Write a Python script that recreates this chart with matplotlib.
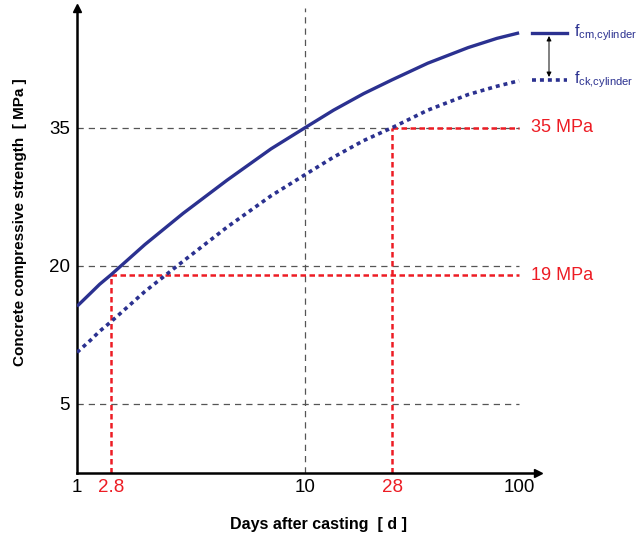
import numpy as np
import matplotlib.pyplot as plt
from matplotlib.lines import Line2D

plt.rcParams['font.family'] = ['Liberation Sans', 'DejaVu Sans']
plt.rcParams['mathtext.fontset'] = 'custom'
plt.rcParams['mathtext.rm'] = 'Liberation Sans'

# curves (days after casting -> MPa)
days = [1, 1.5, 2, 2.8, 3.5, 4.5, 6, 8, 10, 14, 20, 28, 40, 60, 80, 100]
fcm = [15.6, 17.0, 18.0, 19.0, 22.3, 25.7, 29.3, 32.7, 35.0, 36.9, 38.7, 40.2, 42.0, 43.7, 44.7, 45.3]
fck = [10.6, 11.9, 12.9, 13.9, 17.2, 20.5, 24.2, 27.6, 29.9, 31.8, 33.6, 35.0, 36.9, 38.6, 39.5, 40.1]

x_ticks = [1, 2.8, 10, 28, 100]
x_tick_labels = ['1', '2.8', '10', '28', '100']
y_ticks = [5, 20, 35]
marked_days = [2.8, 28]
marked_strength = [19, 35]
marked_labels = ['19 MPa', '35 MPa']

NAVY = '#2b3190'
RED = '#ed1c24'
GREY = '#555555'

# the day axis of the original is a hand-drawn (non uniform) log axis
knot_days = np.log10([1, 2.8, 10, 28, 100, 130])
knot_pos = [0, 33.7, 228, 315, 442, 468]

def fwd(t):
    return np.interp(np.log10(np.clip(t, 1e-3, None)), knot_days, knot_pos)

def inv(p):
    return 10 ** np.interp(p, knot_pos, knot_days)

fig = plt.figure(figsize=(6.39, 5.4), dpi=100)
ax = fig.add_axes([77 / 639, 1 - 473 / 540, (538 - 77) / 639, (473 - 8) / 540])
ax.set_xscale('function', functions=(fwd, inv))
ax.set_xlim(1, 121)
ax.set_ylim(-2.5, 48)

# grid
ax.hlines(y_ticks, 1, 100, colors=GREY, linestyles=(0, (5, 4)), lw=0.9, zorder=1)
ax.axvline(10, color=GREY, linestyle=(0, (5, 4)), lw=0.9, zorder=1)

# red markers
for d, s in zip(marked_days, marked_strength):
    ax.vlines(d, -2.5, s, colors=RED, linestyles=(0, (2.2, 1.4)), lw=1.8, zorder=2)
    ax.hlines(s, d, 100, colors=RED, linestyles=(0, (2.2, 1.4)), lw=1.8, zorder=2)
for s, lab in zip(marked_strength, marked_labels):
    ax.text(113, s, lab, color=RED, fontsize=13, va='center', ha='left')

# curves
ax.plot(days, fcm, color=NAVY, lw=2.4, solid_capstyle='butt', zorder=3)
ax.plot(days, fck, color=NAVY, lw=2.6, linestyle=(0, (1.1, 1.1)), zorder=3)

# axes
for side in ['top', 'right']:
    ax.spines[side].set_visible(False)
for side in ['left', 'bottom']:
    ax.spines[side].set_linewidth(1.8)
ax.plot(0, 1, '^k', ms=6, transform=ax.transAxes, clip_on=False)
ax.plot(1, 0, '>k', ms=6, transform=ax.transAxes, clip_on=False)

ax.set_xticks(x_ticks)
ax.set_xticklabels(x_tick_labels)
ax.xaxis.set_minor_locator(plt.NullLocator())
for lab, d in zip(ax.get_xticklabels(), x_ticks):
    if d in marked_days:
        lab.set_color(RED)
ax.set_yticks(y_ticks)
ax.tick_params(length=0, labelsize=13.5, pad=5)
ax.tick_params(axis='x', pad=4)

fig.text(318 / 639, 1 - 525 / 540, 'Days after casting  [ d ]', ha='center', va='center',
         fontsize=11.5, weight='bold')
fig.text(20 / 639, 1 - 222 / 540, 'Concrete compressive strength  [ MPa ]', ha='center',
         va='center', rotation=90, fontsize=11, weight='bold')

# legend on the right
fig.add_artist(Line2D([532 / 639, 567 / 639], [1 - 33 / 540] * 2, color=NAVY, lw=2.4))
fig.add_artist(Line2D([532 / 639, 567 / 639], [1 - 80 / 540] * 2, color=NAVY, lw=2.6,
                      linestyle=(0, (1.1, 1.1))))
fig.text(574 / 639, 1 - 33 / 540, r'$\mathregular{f_{cm{,}cylinder}}$', color=NAVY,
         fontsize=11.5, va='center')
fig.text(574 / 639, 1 - 80 / 540, r'$\mathregular{f_{ck{,}cylinder}}$', color=NAVY,
         fontsize=11.5, va='center')
ax.annotate('', xy=(549 / 639, 1 - 77 / 540), xytext=(549 / 639, 1 - 36 / 540),
            xycoords='figure fraction', textcoords='figure fraction',
            arrowprops=dict(arrowstyle='<|-|>', color='black', lw=0.7,
                            mutation_scale=7, shrinkA=0, shrinkB=0))

fig.savefig('out.png', dpi=100)
